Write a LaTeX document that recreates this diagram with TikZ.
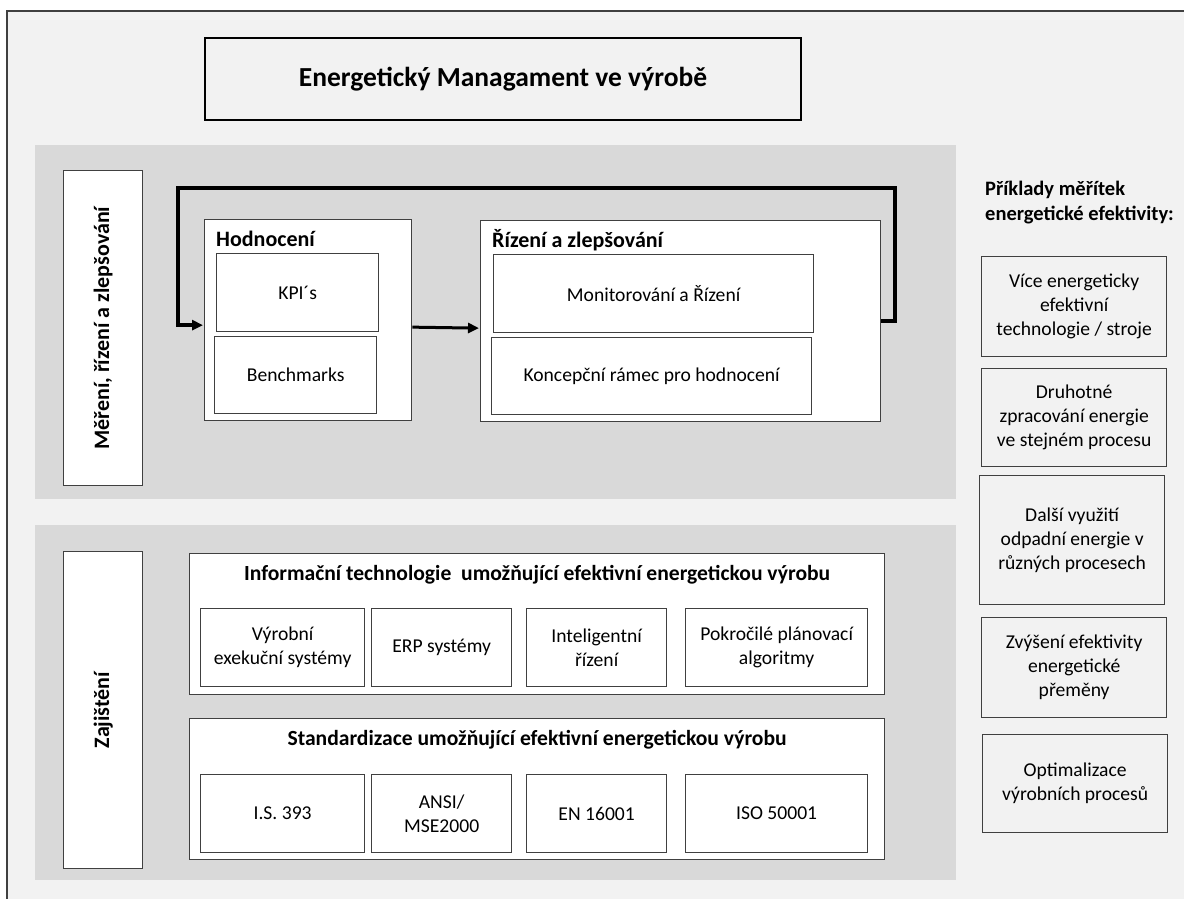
\documentclass[tikz,border=0pt]{standalone}
\usepackage{fontspec}
\setmainfont{Carlito}
\usetikzlibrary{arrows.meta,calc}
\definecolor{bgc}{HTML}{F2F2F2}
\definecolor{panelc}{HTML}{D9D9D9}
\definecolor{boxc}{HTML}{404040}
\newcommand\bodyf{\fontsize{19.6}{24}\selectfont}
\newcommand\headf{\fontsize{22}{26}\selectfont\bfseries}
\newcommand\headsf{\fontsize{21.6}{26}\selectfont\bfseries}
\newcommand\titlef{\fontsize{27.5}{32}\selectfont\bfseries}
\tikzset{
  bx/.style={draw=boxc, line width=1.3pt, fill=white, anchor=north west, inner sep=0pt, align=center, font=\bodyf},
  rbx/.style={bx, fill=bgc},
  panel/.style={fill=panelc, draw=none},
  hd/.style={anchor=base west, inner sep=0pt, font=\headf},
  loopln/.style={line width=3.5pt, -{Triangle[length=11pt,width=10pt]}},
  arr/.style={line width=3pt, -{Triangle[length=11pt,width=10pt]}},
}
\begin{document}
\begin{tikzpicture}[x=1pt,y=-1pt]
\useasboundingbox (0,0) rectangle (1184,899);
\fill[white] (0,0) rectangle (1184,899);
\draw[fill=bgc, draw=boxc, line width=1.3pt] (7,11) rectangle (1200,920);
% title
\node[bx, fill=bgc, draw=black, line width=2.2pt, minimum width=596, minimum height=82, font=\titlef] (title) at (204,37) {Energetický Managament ve výrobě};
% panels
\fill[panel] (35,145) rectangle (956,499);
\fill[panel] (35,525) rectangle (956,880);
% vertical labels
\node[bx, minimum width=79, minimum height=315] (mer) at (63,170) {};
\node[rotate=90, font=\headf, inner sep=0pt] (merl) at (mer.center) {Měření, řízení a zlepšování};
\node[bx, minimum width=79, minimum height=317] (zaj) at (63,551) {};
\node[rotate=90, font=\headf, inner sep=0pt] (zajl) at (zaj.center) {Zajištění};
% Hodnoceni
\node[bx, minimum width=207, minimum height=201] (hod) at (204,219) {};
\node[hd] (hodl) at (216,246) {Hodnocení};
\node[bx, minimum width=162, minimum height=78] (kpi) at (216,253) {KPI´s};
\node[bx, minimum width=162, minimum height=77] (ben) at (214,336) {Benchmarks};
% Rizeni
\node[bx, minimum width=400, minimum height=201] (riz) at (480,220) {};
\node[hd] (rizl) at (492,247) {Řízení a zlepšování};
\node[bx, minimum width=320, minimum height=78] (mon) at (493,254) {Monitorování a Řízení};
\node[bx, minimum width=320, minimum height=77] (kon) at (491,337) {Koncepční rámec pro hodnocení};
% connectors
\coordinate (rt) at (895,188);
\coordinate (lt) at (178,188);
\draw[loopln] (riz.east) -| (rt) -- (lt) |- ($(hod.west)+(-1,5)$);
\draw[arr] ($(hod.east)+(0,7)$) -- ($(riz.west)+(-1,7)$);
% IT
\node[bx, minimum width=695, minimum height=141] (it) at (189,553) {};
\node[anchor=base, inner sep=0pt, font=\headsf] (itl) at ($(it.north)+(0,27)$) {Informační technologie\ \ umožňující efektivní energetickou výrobu};
\node[bx, minimum width=164, minimum height=78] (mes) at (200,608) {Výrobní\\exekuční systémy};
\node[bx, minimum width=140, minimum height=78] (erp) at (371,608) {ERP systémy};
\node[bx, minimum width=140, minimum height=78] (int) at (526,608) {Inteligentní\\řízení};
\node[bx, minimum width=182, minimum height=78] (pok) at (685,608) {Pokročilé plánovací\\algoritmy};
% Standardizace
\node[bx, minimum width=695, minimum height=141] (std) at (189,718) {};
\node[anchor=base, inner sep=0pt, font=\headsf] (stdl) at ($(std.north)+(0,27)$) {Standardizace umožňující efektivní energetickou výrobu};
\node[bx, minimum width=164, minimum height=78] (is) at (200,774) {I.S. 393};
\node[bx, minimum width=140, minimum height=78] (ansi) at (371,774) {ANSI/\\MSE2000};
\node[bx, minimum width=140, minimum height=78] (en) at (526,774) {EN 16001};
\node[bx, minimum width=182, minimum height=78] (iso) at (685,774) {ISO 50001};
% right column
\node[anchor=base west, inner sep=0pt, align=left, font=\fontsize{20.5}{25}\selectfont\bfseries] (rhd) at (985,220) {Příklady měřítek\\energetické efektivity:};
\node[rbx, minimum width=185, minimum height=100] (r1) at (981,256) {Více energeticky\\efektivní\\technologie / stroje};
\node[rbx, minimum width=185, minimum height=98] (r2) at (981,368) {Druhotné\\zpracování energie\\ve stejném procesu};
\node[rbx, minimum width=185, minimum height=129] (r3) at (979,475) {Další využití\\odpadní energie v\\různých procesech};
\node[rbx, minimum width=185, minimum height=100] (r4) at (981,617) {Zvýšení efektivity\\energetické\\přeměny};
\node[rbx, minimum width=185, minimum height=98] (r5) at (982,734) {Optimalizace\\výrobních procesů};
\end{tikzpicture}
\end{document}
